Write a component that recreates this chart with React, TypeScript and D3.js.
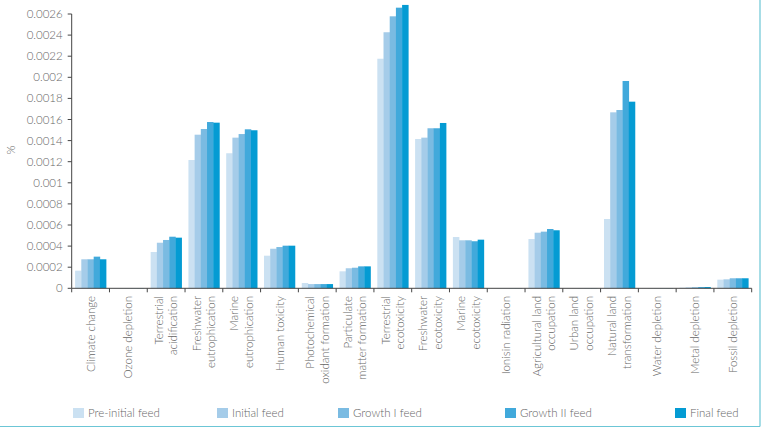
import React from "react";
import { scaleBand, scaleLinear } from "d3";

const categories = [
  ["Climate change"],
  ["Ozone depletion"],
  ["Terrestrial", "acidification"],
  ["Freshwater", "eutrophication"],
  ["Marine", "eutrophication"],
  ["Human toxicity"],
  ["Photochemical", "oxidant formation"],
  ["Particulate", "matter formation"],
  ["Terrestrial", "ecotoxicity"],
  ["Freshwater", "ecotoxicity"],
  ["Marine", "ecotoxicity"],
  ["Ionisin radiation"],
  ["Agricultural land", "occupation"],
  ["Urban land", "occupation"],
  ["Natural land", "transformation"],
  ["Water depletion"],
  ["Metal depletion"],
  ["Fossil depletion"],
];

const seriesNames = ["Pre-initial feed", "Initial feed", "Growth I feed", "Growth II feed", "Final feed"];
const colors = ["#cbe1f2", "#a5cce9", "#7abbe2", "#41a9db", "#049bd3"];

// values per category, one entry per series
const preInitial = [0.000167, 0.000002, 0.000344, 0.001216, 0.00128, 0.000309, 0.00005, 0.000161, 0.002176, 0.001415, 0.000486, 0.000002, 0.000467, 0.000002, 0.000657, 0.000002, 0.000006, 0.000082];
const initial = [0.000275, 0.000002, 0.000432, 0.001456, 0.001428, 0.000375, 0.00004, 0.00019, 0.002427, 0.001428, 0.000455, 0.000002, 0.000527, 0.000002, 0.001668, 0.000002, 0.000008, 0.000085];
const growth1 = [0.000275, 0.000002, 0.000458, 0.00151, 0.001462, 0.000391, 0.00004, 0.000195, 0.002578, 0.001517, 0.000455, 0.000002, 0.000537, 0.000002, 0.00169, 0.000002, 0.00001, 0.000095];
const growth2 = [0.0003, 0.000002, 0.000489, 0.001576, 0.001507, 0.000404, 0.00004, 0.000208, 0.00266, 0.001517, 0.000446, 0.000002, 0.000562, 0.000002, 0.001965, 0.000002, 0.000012, 0.000095];
const final = [0.000275, 0.000002, 0.00048, 0.00157, 0.001498, 0.000404, 0.00004, 0.000208, 0.002686, 0.001567, 0.000461, 0.000002, 0.00055, 0.000002, 0.001769, 0.000002, 0.000012, 0.000095];
const series = [preInitial, initial, growth1, growth2, final];

const yTicks = [0, 0.0002, 0.0004, 0.0006, 0.0008, 0.001, 0.0012, 0.0014, 0.0016, 0.0018, 0.002, 0.0022, 0.0024, 0.0026];
const yTickLabels = ["0", "0.0002", "0.0004", "0.0006", "0.0008", "0.001", "0.0012", "0.0014", "0.0016", "0.0018", "0.002", "0.0022", "0.0024", "0.0026"];

const legendX = [73, 217, 338, 505, 675];

const font = "Lato, 'Open Sans', sans-serif";
const textColor = "#666";
const axisColor = "#444";

export default function App() {
  const width = 763;
  const height = 430;
  const left = 71.7;
  const right = 751.7;
  const y0 = 288.3;

  const x = scaleBand<number>()
    .domain(categories.map((_, i) => i))
    .range([left, right])
    .padding(0);
  const bw = x.bandwidth();
  const xs = scaleBand<number>()
    .domain(seriesNames.map((_, i) => i))
    .range([3.4, bw - 3.4])
    .padding(0);
  const y = scaleLinear().domain([0, 0.0026]).range([y0, 14]);

  return (
    <svg width={width} height={height} style={{ position: "absolute", left: 0, top: 0 }}>
      {/* bars */}
      {categories.map((_, ci) =>
        series.map((s, si) => {
          const v = s[ci];
          const top = y(v);
          return (
            <rect
              key={ci + "-" + si}
              x={(x(ci) ?? 0) + (xs(si) ?? 0)}
              y={top}
              width={xs.bandwidth() + 0.3}
              height={Math.max(y0 - top, 0)}
              fill={colors[si]}
            />
          );
        })
      )}

      {/* y axis */}
      <line x1={left} x2={left} y1={y(0.0026)} y2={y0} stroke={axisColor} strokeWidth={1} />
      {yTicks.map((t, i) => (
        <g key={t}>
          <line x1={left - 4} x2={left} y1={y(t)} y2={y(t)} stroke={axisColor} />
          <text
            x={left - 9}
            y={y(t)}
            dy="0.35em"
            textAnchor="end"
            fontFamily={font}
            fontWeight={300}
            fontSize={11.5}
            fill={textColor}
          >
            {yTickLabels[i]}
          </text>
        </g>
      ))}
      <text
        transform={`translate(15,150) rotate(-90)`}
        textAnchor="middle"
        fontFamily={font}
        fontWeight={300}
        fontSize={11.5}
        fill={textColor}
      >
        %
      </text>

      {/* x axis */}
      <line x1={left} x2={right} y1={y0} y2={y0} stroke={axisColor} />
      {categories.map((_, i) => (
        <line key={"t" + i} x1={x(i)} x2={x(i)} y1={y0} y2={y0 + 4} stroke={axisColor} />
      ))}
      <line x1={right} x2={right} y1={y0} y2={y0 + 4} stroke={axisColor} />
      {categories.map((lines, i) => {
        const cx = (x(i) ?? 0) + bw / 2;
        const n = lines.length;
        return lines.map((ln, li) => {
          const off = (li - (n - 1) / 2) * 14.5;
          return (
            <text
              key={"l" + i + "-" + li}
              transform={`translate(${cx + off},296) rotate(-90)`}
              textAnchor="end"
              dy="0.35em"
              fontFamily={font}
              fontWeight={300}
              fontSize={11.5}
              fill={textColor}
            >
              {ln}
            </text>
          );
        });
      })}

      {/* legend */}
      {seriesNames.map((name, i) => (
        <g key={name}>
          <rect x={legendX[i]} y={408} width={11} height={10} fill={colors[i]} />
          <text x={legendX[i] + 15} y={417} fontFamily={font} fontWeight={300} fontSize={11.5} fill={textColor}>
            {name}
          </text>
        </g>
      ))}

      {/* frame lines */}
      <line x1={0} x2={760} y1={426.5} y2={426.5} stroke="#6cc6d6" strokeWidth={1.2} />
      <line x1={760} x2={760} y1={0} y2={426.5} stroke="#6cc6d6" strokeWidth={1.2} />
    </svg>
  );
}
